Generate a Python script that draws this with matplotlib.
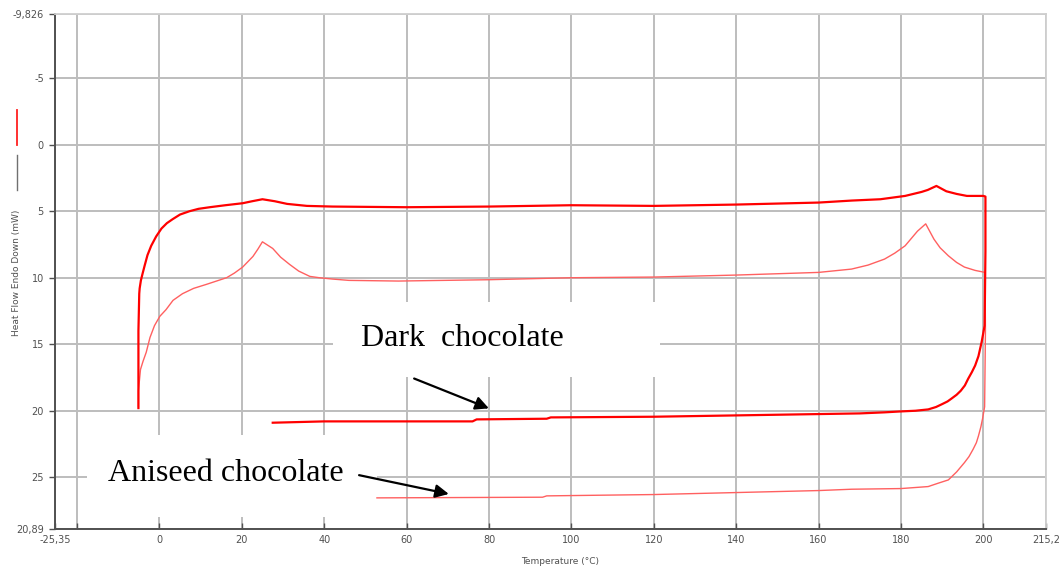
import matplotlib
matplotlib.use('Agg')
import matplotlib.pyplot as plt
from matplotlib.lines import Line2D
from matplotlib.patches import Rectangle

# dark chocolate trace (temperature in C, heat flow in mW)
dark_T = [27.5, 40, 60, 76, 77, 94, 95, 120, 140, 160, 170, 176, 180, 183.5, 186.6, 188.5,
          190, 191.3, 192.2, 193.5, 194.5, 195.5, 196.3, 197.2, 198, 198.8, 199.6, 200.3,
          200.5, 200.5, 200.0, 196, 193.5, 191.0, 188.6, 186.5, 185, 181, 175, 168, 160,
          140, 120, 100, 80, 60, 42, 35.8, 31, 28, 25, 22.5, 20.2, 16, 12.2, 9.5, 7.3,
          5.0, 3.2, 1.8, 0.5, -0.8, -2, -2.9, -3.6, -4.1, -4.5, -4.8, -4.9, -5.1, -5.1]
dark_H = [20.9, 20.8, 20.8, 20.8, 20.65, 20.6, 20.5, 20.45, 20.35, 20.25, 20.2, 20.12,
          20.05, 20.0, 19.9, 19.72, 19.5, 19.3, 19.1, 18.8, 18.5, 18.1, 17.6, 17.1, 16.6,
          15.9, 14.8, 13.6, 8.0, 3.9, 3.85, 3.85, 3.7, 3.5, 3.1, 3.4, 3.55, 3.85, 4.1,
          4.2, 4.35, 4.5, 4.6, 4.55, 4.65, 4.7, 4.65, 4.6, 4.45, 4.25, 4.1, 4.25, 4.4,
          4.55, 4.7, 4.82, 5.0, 5.25, 5.6, 5.9, 6.3, 6.9, 7.6, 8.3, 9.1, 9.7, 10.2, 10.8,
          11.2, 14.0, 19.8]

# aniseed chocolate trace
ani_T = [52.8, 93, 94, 120, 140, 160, 168, 180, 186.6, 189, 191.5, 193.5, 195.4, 196.5,
         197.5, 198.3, 198.8, 199.4, 199.8, 200.3, 200.5, 200.4, 198, 195.4, 193.5, 191.5,
         189.5, 188, 186, 184, 181, 178.5, 176, 172, 168, 160, 140, 120, 100, 80, 58, 46,
         42, 38.8, 36.5, 33.8, 31.6, 29.4, 27.5, 25, 23.9, 22.7, 20.2, 18.2, 16.3, 11.4,
         8.3, 5.6, 3.3, 1.6, 0.1, -1.2, -2.3, -3.2, -4.0, -4.6, -5.1, -5.1]
ani_H = [26.55, 26.5, 26.4, 26.3, 26.15, 26.0, 25.9, 25.85, 25.7, 25.45, 25.2, 24.6, 23.9,
         23.45, 22.9, 22.4, 21.9, 21.2, 20.6, 19.7, 14.0, 9.6, 9.45, 9.2, 8.85, 8.35,
         7.75, 7.1, 5.95, 6.5, 7.6, 8.15, 8.6, 9.05, 9.35, 9.6, 9.8, 9.95, 10.0, 10.15,
         10.25, 10.2, 10.1, 10.0, 9.9, 9.5, 9.0, 8.45, 7.8, 7.3, 7.85, 8.4, 9.2, 9.65,
         10.0, 10.5, 10.8, 11.2, 11.7, 12.4, 12.9, 13.6, 14.5, 15.6, 16.3, 16.9, 18.5,
         19.7]

x_ticks = [-25.35, -20, 0, 20, 40, 60, 80, 100, 120, 140, 160, 180, 200, 215.2]
x_labels = ['-25,35', '', '0', '20', '40', '60', '80', '100', '120', '140', '160',
            '180', '200', '215,2']
y_ticks = [-9.826, -5, 0, 5, 10, 15, 20, 25, 28.89]
y_labels = ['-9,826', '-5', '0', '5', '10', '15', '20', '25', '20,89']

fig = plt.figure(figsize=(10.63, 5.74), dpi=100)
ax = fig.add_axes([55/1063, 45/574, 991/1063, 515/574])
ax.set_xlim(x_ticks[0], x_ticks[-1])
ax.set_ylim(y_ticks[-1], y_ticks[0])

grid_c = '#bdbdbd'
ax.set_xticks(x_ticks)
ax.set_xticklabels(x_labels)
ax.set_yticks(y_ticks)
ax.set_yticklabels(y_labels)
ax.grid(True, color=grid_c, lw=1.4, zorder=0)
ax.set_axisbelow(True)
ax.tick_params(axis='both', labelsize=7, labelcolor='#505050', color='#505050',
               length=4, width=1, pad=4)
ax.tick_params(axis='x', direction='in')
for s in ['left', 'bottom']:
    ax.spines[s].set_color('#505050')
    ax.spines[s].set_linewidth(1.4)
for s in ['top', 'right']:
    ax.spines[s].set_color('#cfcfcf')
    ax.spines[s].set_linewidth(1.3)

ax.plot(ani_T, ani_H, color='#ff6060', lw=1.0, zorder=3)
ax.plot(dark_T, dark_H, color='#ff0000', lw=1.6, zorder=4)

# white text boxes over the grid
ax.add_patch(Rectangle((42.2, 11.83), 79.2, 5.65, facecolor='white', edgecolor='none', zorder=2))
ax.add_patch(Rectangle((-17.5, 21.8), 70.2, 6.2, facecolor='white', edgecolor='none', zorder=2))

serif = ['Liberation Serif', 'DejaVu Serif']
ax.text(49, 14.6, 'Dark  chocolate', family=serif, fontsize=23, va='center', ha='left', zorder=5)
ax.text(-12.6, 24.7, 'Aniseed chocolate', family=serif, fontsize=23, va='center', ha='left', zorder=5)
ax.annotate('', xy=(80.6, 19.9), xytext=(61.2, 17.5),
            arrowprops=dict(arrowstyle='-|>', color='black', lw=1.6, mutation_scale=20), zorder=6)
ax.annotate('', xy=(70.9, 26.3), xytext=(47.8, 24.8),
            arrowprops=dict(arrowstyle='-|>', color='black', lw=1.6, mutation_scale=20), zorder=6)

# axis titles and legend marks
fig.text(560/1063, 1 - 562/574, 'Temperature (°C)', fontsize=6.5, color='#505050',
         ha='center', va='center')
fig.text(17/1063, 1 - 273/574, 'Heat Flow Endo Down (mW)', fontsize=6.5, color='#505050',
         ha='center', va='center', rotation=90)
fig.add_artist(Line2D([17/1063, 17/1063], [1 - 110/574, 1 - 145/574], color='#ff2020', lw=1.3))
fig.add_artist(Line2D([17/1063, 17/1063], [1 - 155/574, 1 - 190/574], color='#707070', lw=1.0))

fig.savefig('out.png', dpi=100)
